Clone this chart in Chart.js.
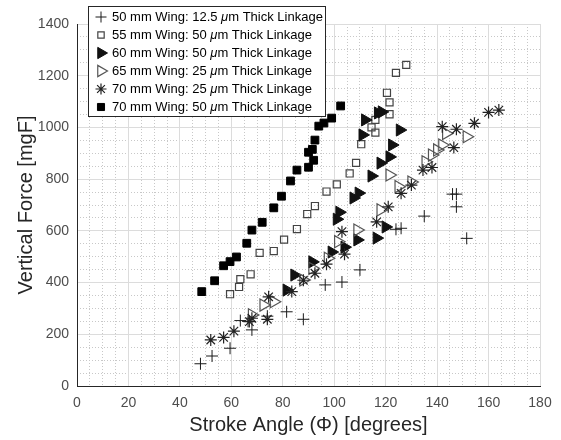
<!DOCTYPE html>
<html>
<head>
<meta charset="utf-8">
<script src="https://cdn.jsdelivr.net/npm/chart.js@4.4.1/dist/chart.umd.min.js"></script>
<style>
  html, body { margin: 0; padding: 0; background: #fff; }
  #wrap { width: 561px; height: 440px; }
</style>
</head>
<body>
<div id="wrap"><canvas id="forcechart" width="561" height="440"></canvas></div>
<script>
// 50 mm wing, 12.5 um linkage (+)
const w50Angle = [48, 52.5, 59.5, 63.5, 66.5, 68, 74, 81.5, 88, 96.5, 103, 110, 124, 126, 135, 146, 147.5, 147.5, 151.5];
const w50Force = [86, 116, 146, 253, 250, 217, 270, 287, 258, 391, 402, 449, 606, 610, 657, 742, 742, 693, 571];

// 55 mm wing, 50 um linkage (open square)
const w55Angle = [59.5, 63, 63.5, 67.5, 71, 76.5, 80.5, 85.5, 89.5, 92.5, 97, 101, 106, 108.5, 110.5, 114.5, 116, 116, 121.5, 121.5, 120.5, 124, 128];
const w55Force = [355, 383, 413, 432, 515, 522, 566, 607, 665, 696, 752, 780, 822, 863, 935, 1000, 980, 1029, 1051, 1097, 1134, 1211, 1242];

// 60 mm wing, 50 um linkage (filled triangle)
const w60Angle = [81.5, 84.5, 91.5, 99, 101, 102, 104, 109, 116.5, 120, 107.5, 109.5, 114.5, 118, 121.5, 122.5, 125.5, 111, 112, 117, 118.5];
const w60Force = [371, 429, 480, 518, 645, 672, 537, 565, 572, 615, 727, 746, 812, 862, 886, 932, 990, 971, 1029, 1056, 1060];

// 65 mm wing, 25 um linkage (open triangle)
const w65Angle = [68, 72.5, 76.5, 88, 91.5, 97.5, 101.5, 109, 118, 121.5, 125, 130, 135.5, 138, 140, 142, 143.5, 151.5];
const w65Force = [275, 313, 326, 410, 455, 494, 558, 603, 681, 816, 771, 789, 867, 893, 913, 932, 977, 964];

// 70 mm wing, 25 um linkage (asterisk)
const w70aAngle = [52, 57, 61, 67, 68, 74, 74.5, 83.5, 88, 92.5, 97, 104, 103, 116.5, 121, 126, 130, 134.5, 138, 142, 146.5, 147.5, 154.5, 160, 164];
const w70aForce = [178, 188, 212, 249, 262, 258, 345, 365, 409, 436, 471, 510, 597, 635, 693, 745, 777, 835, 845, 1003, 922, 993, 1016, 1058, 1067];

// 70 mm wing, 50 um linkage (filled square)
const w70bAngle = [48.5, 53.5, 57, 59.5, 62, 66, 68, 72, 76.5, 79.5, 83, 85.5, 90, 92, 90, 91.5, 92.5, 94, 96, 99, 102.5];
const w70bForce = [365, 407, 465, 481, 499, 552, 603, 633, 689, 734, 793, 835, 846, 873, 904, 915, 951, 1005, 1017, 1036, 1083];

const legendLabels = [
  ["50 mm Wing: 12.5 ", "\u03bc", "m Thick Linkage"],
  ["55 mm Wing: 50 ", "\u03bc", "m Thick Linkage"],
  ["60 mm Wing: 50 ", "\u03bc", "m Thick Linkage"],
  ["65 mm Wing: 25 ", "\u03bc", "m Thick Linkage"],
  ["70 mm Wing: 25 ", "\u03bc", "m Thick Linkage"],
  ["70 mm Wing: 50 ", "\u03bc", "m Thick Linkage"]
];

const xTicks = [0, 20, 40, 60, 80, 100, 120, 140, 160, 180];
const yTicks = [0, 200, 400, 600, 800, 1000, 1200, 1400];

const FONT = "'Liberation Sans', Arial, Helvetica, sans-serif";

function zip(xs, ys) {
  return xs.map((x, i) => ({ x: x, y: ys[i] }));
}

const markerStyles = [
  { pointStyle: "cross", radius: 6, rotation: 0, bg: "#1a1a1a", border: "#1a1a1a", width: 1 },
  { pointStyle: "rect", radius: 5, rotation: 0, bg: "rgba(255,255,255,0)", border: "#444", width: 1.2 },
  { pointStyle: "triangle", radius: 7, rotation: 90, bg: "#111", border: "#111", width: 1 },
  { pointStyle: "triangle", radius: 7, rotation: 90, bg: "rgba(255,255,255,0)", border: "#555", width: 1.2 },
  { pointStyle: "star", radius: 6, rotation: 0, bg: "#222", border: "#222", width: 1.2 },
  { pointStyle: "rect", radius: 5.5, rotation: 0, bg: "#000", border: "#000", width: 1 }
];

const seriesData = [
  zip(w50Angle, w50Force),
  zip(w55Angle, w55Force),
  zip(w60Angle, w60Force),
  zip(w65Angle, w65Force),
  zip(w70aAngle, w70aForce),
  zip(w70bAngle, w70bForce)
];

const datasets = seriesData.map((d, i) => {
  const m = markerStyles[i];
  return {
    label: legendLabels[i].join(""),
    data: d,
    showLine: false,
    pointStyle: m.pointStyle,
    pointRadius: m.radius,
    pointRotation: m.rotation,
    pointBackgroundColor: m.bg,
    pointBorderColor: m.border,
    pointBorderWidth: m.width,
    order: 6 - i
  };
});

// legend box drawn in the MATLAB style (boxed, top-left, over the axes)
const boxLegend = {
  id: "boxLegend",
  afterDraw(chart) {
    const ctx = chart.ctx;
    const left = 88.5, top = 6.5, w = 237, h = 110;
    ctx.save();
    ctx.fillStyle = "#fff";
    ctx.fillRect(left, top, w, h);
    ctx.strokeStyle = "#262626";
    ctx.lineWidth = 1;
    ctx.strokeRect(left, top, w, h);
    legendLabels.forEach((parts, i) => {
      const y = 17 + i * 18;
      const m = markerStyles[i];
      ctx.save();
      ctx.fillStyle = m.bg;
      ctx.strokeStyle = m.border;
      ctx.lineWidth = m.width;
      Chart.helpers.drawPoint(ctx, {
        pointStyle: m.pointStyle,
        radius: m.radius - 0.5,
        rotation: m.rotation,
        borderWidth: m.width
      }, 101, y);
      ctx.restore();
      ctx.fillStyle = "#000";
      ctx.textBaseline = "middle";
      let x = 112;
      ctx.font = "13px " + FONT;
      ctx.fillText(parts[0], x, y);
      x += ctx.measureText(parts[0]).width;
      ctx.font = "italic 13px " + FONT;
      ctx.fillText(parts[1], x, y);
      x += ctx.measureText(parts[1]).width;
      ctx.font = "13px " + FONT;
      ctx.fillText(parts[2], x, y);
    });
    ctx.restore();
  }
};

const ctx = document.getElementById("forcechart").getContext("2d");

window.forceChart = new Chart(ctx, {
  type: "scatter",
  data: { datasets: datasets },
  options: {
    responsive: false,
    animation: false,
    layout: { padding: { top: 24, right: 21, left: 0, bottom: 0 } },
    plugins: {
      legend: { display: false },
      tooltip: { enabled: false }
    },
    scales: {
      xMinor: {
        type: "linear",
        position: "top",
        min: 0, max: 180,
        ticks: { display: false, stepSize: 5 },
        border: { display: false, dash: [1, 2] },
        grid: {
          drawTicks: false,
          color: (c) => (c.tick && c.tick.value % 20 === 0) ? "rgba(0,0,0,0)" : "#c8c8c8"
        },
        afterFit: (s) => { s.height = 0; }
      },
      yMinor: {
        type: "linear",
        position: "right",
        min: 0, max: 1400,
        ticks: { display: false, stepSize: 50 },
        border: { display: false, dash: [1, 2] },
        grid: {
          drawTicks: false,
          color: (c) => (c.tick && c.tick.value % 200 === 0) ? "rgba(0,0,0,0)" : "#c8c8c8"
        },
        afterFit: (s) => { s.width = 0; }
      },
      x: {
        type: "linear",
        position: "bottom",
        min: 0, max: 180,
        afterBuildTicks: (s) => { s.ticks = xTicks.map(v => ({ value: v })); },
        ticks: {
          color: "#4d4d4d",
          padding: 9,
          font: { family: FONT, size: 14 },
          callback: (v) => String(v)
        },
        grid: { drawTicks: false, color: "#dcdcdc", lineWidth: 1 },
        border: { display: true, color: "#262626", width: 1 },
        title: {
          display: true,
          text: "Stroke Angle (\u03a6) [degrees]",
          color: "#262626",
          font: { family: FONT, size: 20, lineHeight: 1.2 },
          padding: { top: 0, bottom: 3 }
        },
        afterFit: (s) => { s.height = 54; }
      },
      y: {
        type: "linear",
        position: "left",
        min: 0, max: 1400,
        afterBuildTicks: (s) => { s.ticks = yTicks.map(v => ({ value: v })); },
        ticks: {
          color: "#4d4d4d",
          padding: 8,
          font: { family: FONT, size: 14 },
          callback: (v) => String(v)
        },
        grid: { drawTicks: false, color: "#dcdcdc", lineWidth: 1 },
        border: { display: true, color: "#262626", width: 1 },
        title: {
          display: true,
          text: "Vertical Force [mgF]",
          color: "#262626",
          font: { family: FONT, size: 20, lineHeight: 1.2 },
          padding: { top: 14, bottom: 0 }
        },
        afterFit: (s) => { s.width = 77; }
      }
    }
  },
  plugins: [boxLegend]
});
</script>
</body>
</html>
